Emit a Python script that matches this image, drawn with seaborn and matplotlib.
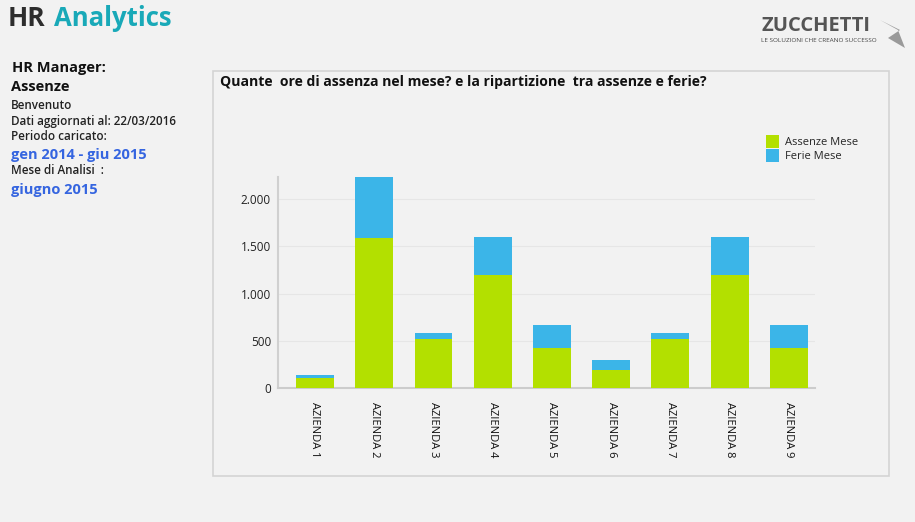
import matplotlib
matplotlib.use("Agg")
import matplotlib.pyplot as plt
import seaborn as sns
import pandas as pd
from matplotlib.patches import Rectangle, Polygon

categories = ["AZIENDA 1", "AZIENDA 2", "AZIENDA 3", "AZIENDA 4", "AZIENDA 5",
              "AZIENDA 6", "AZIENDA 7", "AZIENDA 8", "AZIENDA 9"]
assenze_mese = [105, 1590, 520, 1200, 427, 194, 520, 1200, 427]
ferie_mese = [35, 650, 65, 400, 243, 106, 65, 400, 243]
yticks = [0, 500, 1000, 1500, 2000]
ytick_labels = ["0", "500", "1.000", "1.500", "2.000"]

GREEN = "#b3e000"
BLUE = "#3bb5e8"
BG = "#f2f2f2"

sns.set_theme(style="white")
plt.rcParams["font.family"] = ["Open Sans", "DejaVu Sans"]

df = pd.DataFrame({"azienda": categories, "assenze": assenze_mese, "ferie": ferie_mese})
df["totale"] = df["assenze"] + df["ferie"]

fig = plt.figure(figsize=(9.15, 5.22), dpi=100, facecolor=BG)

# chart panel
fig.patches.append(Rectangle((213 / 915, 1 - 476 / 522), (889 - 213) / 915, (476 - 71) / 522,
                             transform=fig.transFigure, facecolor="none", edgecolor="#d4d4d4",
                             linewidth=1.2, zorder=-5))

ax = fig.add_axes([278 / 915, 1 - 388 / 522, (815 - 278) / 915, (388 - 176.5) / 522])
ax.set_facecolor(BG)
ax.set_zorder(2)

sns.barplot(data=df, x="azienda", y="totale", color=BLUE, width=0.64, saturation=1,
            ax=ax, zorder=3, label="Ferie Mese", linewidth=0, edgecolor="none")
sns.barplot(data=df, x="azienda", y="assenze", color=GREEN, width=0.64, saturation=1,
            ax=ax, zorder=4, label="Assenze Mese", linewidth=0, edgecolor="none")

ax.set_xlim(-0.624, 8.44)
ax.set_ylim(0, 2240)
ax.set_yticks(yticks)
ax.set_yticklabels(ytick_labels, fontsize=8.5, color="#222222")
ax.set_xlabel("")
ax.set_ylabel("")
ax.tick_params(axis="both", length=0, pad=5)
ax.tick_params(axis="x", pad=10)
for lab in ax.get_xticklabels():
    lab.set_rotation(270)
    lab.set_fontsize(8)
    lab.set_color("#111111")
    lab.set_va("top")
    lab.set_ha("center")
ax.yaxis.grid(True, color="#e6e6e6", linewidth=0.8, zorder=0)
ax.set_axisbelow(True)
for s in ["top", "right"]:
    ax.spines[s].set_visible(False)
ax.spines["left"].set_color("#d0d0d0")
ax.spines["left"].set_linewidth(1.5)
ax.spines["bottom"].set_color("#cccccc")
ax.spines["bottom"].set_linewidth(1.5)

handles, labels = ax.get_legend_handles_labels()
order = [labels.index("Assenze Mese"), labels.index("Ferie Mese")]
leg = fig.legend([handles[i] for i in order], [labels[i] for i in order],
                 loc="upper left", bbox_to_anchor=(766 / 915, 1 - 135 / 522),
                 frameon=False, fontsize=8, handlelength=1.2, handleheight=1.4,
                 handletextpad=0.5, labelspacing=0.05, borderaxespad=0, borderpad=0)
if ax.get_legend() is not None:
    ax.get_legend().remove()

# chart title
fig.text(220 / 915, 1 - 82 / 522,
         "Quante  ore di assenza nel mese? e la ripartizione  tra assenze e ferie?",
         fontsize=10.1, fontweight="bold", color="#111111", va="center", ha="left")

# header
fig.text(8 / 915, 1 - 18 / 522, "HR", fontsize=19, fontweight="bold", color="#2d2d2d",
         va="center", ha="left")
fig.text(54 / 915, 1 - 18 / 522, "Analytics", fontsize=18.5, fontweight="bold", color="#19a9b8",
         va="center", ha="left")

# left panel
left_items = [
    (12, 68, "HR Manager:", 10.5, "bold", "#111111"),
    (11, 87, "Assenze", 10.5, "bold", "#111111"),
    (11, 106, "Benvenuto", 8.4, "semibold", "#222222"),
    (11, 121, "Dati aggiornati al: 22/03/2016", 8.4, "semibold", "#222222"),
    (11, 136, "Periodo caricato:", 8.4, "semibold", "#222222"),
    (11, 155, "gen 2014 - giu 2015", 10.5, "bold", "#3565e0"),
    (11, 171, "Mese di Analisi  :", 8.4, "semibold", "#222222"),
    (11, 190, "giugno 2015", 10.5, "bold", "#3565e0"),
]
for x, y, t, fs, fw, c in left_items:
    fig.text(x / 915, 1 - y / 522, t, fontsize=fs, fontweight=fw, color=c, va="center", ha="left")

# logo
fig.text(761 / 915, 1 - 26 / 522, "ZUCCHETTI", fontsize=14.5, fontweight="bold", color="#555555",
         va="center", ha="left", zorder=5)
fig.text(761 / 915, 1 - 41 / 522, "LE SOLUZIONI CHE CREANO SUCCESSO", fontsize=4.6,
         color="#444444", va="center", ha="left", zorder=5)
fig.patches.append(Polygon([[(880 / 915), 1 - 20 / 522], [(900 / 915), 1 - 30 / 522],
                            [(888 / 915), 1 - 38 / 522], [(905 / 915), 1 - 48 / 522],
                            [(898 / 915), 1 - 30 / 522]],
                           closed=True, transform=fig.transFigure, facecolor="#9a9a9a",
                           edgecolor="none", zorder=4))

fig.savefig("out.png", dpi=100, facecolor=BG)
